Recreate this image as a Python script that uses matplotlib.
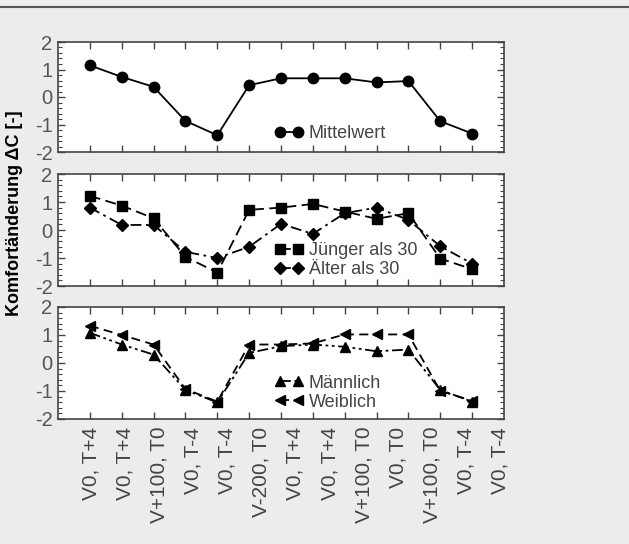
import matplotlib
matplotlib.use('Agg')
import matplotlib.pyplot as plt
from matplotlib.ticker import AutoMinorLocator
from matplotlib.lines import Line2D
import numpy as np

plt.rcParams['font.family'] = ['Liberation Sans', 'DejaVu Sans']
plt.rcParams['axes.unicode_minus'] = False

# Messpunkte (Szenarien)
x_labels = ['V0, T+4', 'V0, T+4', 'V+100, T0', 'V0, T-4', 'V0, T-4', 'V-200, T0',
            'V0, T+4', 'V0, T+4', 'V+100, T0', 'V0, T0', 'V+100, T0', 'V0, T-4', 'V0, T-4']
x = np.arange(1, 14)

mittelwert = [1.15, 0.73, 0.37, -0.87, -1.39, 0.43, 0.68, 0.68, 0.68, 0.53, 0.58, -0.88, -1.33]
juenger = [1.22, 0.87, 0.42, -0.96, -1.52, 0.72, 0.80, 0.93, 0.66, 0.40, 0.60, -1.02, -1.40]
aelter = [0.80, 0.18, 0.18, -0.78, -1.00, -0.60, 0.22, -0.14, 0.60, 0.80, 0.36, -0.58, -1.20]
maennlich = [1.08, 0.66, 0.30, -0.96, -1.41, 0.36, 0.60, 0.66, 0.58, 0.42, 0.48, -0.96, -1.38]
weiblich = [1.33, 1.00, 0.66, -0.93, -1.38, 0.66, 0.66, 0.70, 1.02, 1.02, 1.02, -1.00, -1.35]

bg = '#ececec'
fig = plt.figure(figsize=(6.29, 5.44), dpi=100, facecolor=bg)

left, width = 58 / 629, (504 - 58) / 629
axes_px = [(42, 152), (174, 286), (307, 419)]
axes = []
for top, bot in axes_px:
    ax = fig.add_axes([left, 1 - bot / 544, width, (bot - top) / 544])
    axes.append(ax)

for ax in axes:
    ax.set_xlim(0, 14)
    ax.set_ylim(-2, 2)
    ax.set_xticks(x)
    ax.set_xticklabels([])
    ax.set_yticks([-2, -1, 0, 1, 2])
    ax.yaxis.set_minor_locator(AutoMinorLocator(5))
    ax.tick_params(axis='both', which='major', direction='in', top=True, right=True,
                   length=5, width=1, color='#444444', labelcolor='#555555', labelsize=14.5, pad=4)
    ax.tick_params(axis='y', which='minor', direction='in', left=True, right=True,
                   length=3, width=0.8, color='#444444')
    ax.tick_params(axis='x', which='minor', bottom=False, top=False)
    for s in ax.spines.values():
        s.set_color('#444444')
        s.set_linewidth(1.2)

lw = 1.3
ax1, ax2, ax3 = axes
ax1.plot(x, mittelwert, color='black', lw=lw, marker='o', ms=7.5, label='Mittelwert')
ax2.plot(x, juenger, color='black', lw=lw, ls=(0, (6, 3)), marker='s', ms=6.5, label='Jünger als 30')
ax2.plot(x, aelter, color='black', lw=lw, ls=(0, (6, 2.5, 1.5, 2.5)), marker='D', ms=6, label='Älter als 30')
ax3.plot(x, maennlich, color='black', lw=lw, ls=(0, (6, 2, 1.5, 2, 1.5, 2)), marker='^', ms=7, label='Männlich')
ax3.plot(x, weiblich, color='black', lw=lw, ls=(0, (5, 3)), marker='<', ms=7, label='Weiblich')

leg_kw = dict(frameon=False, numpoints=2, handlelength=1.6, handletextpad=0.3,
              fontsize=13, labelspacing=0.1, borderpad=0, borderaxespad=0,
              labelcolor='#444444')
ax1.legend(loc='center left', bbox_to_anchor=(0.485, 0.165), **leg_kw)
ax2.legend(loc='center left', bbox_to_anchor=(0.485, 0.23), **leg_kw)
ax3.legend(loc='center left', bbox_to_anchor=(0.485, 0.235), **leg_kw)

# Beschriftungen der x-Achse (leicht versetzt wie im Original)
label_x = 1.04 + 1.069 * np.arange(len(x_labels))
for xp, lab in zip(label_x, x_labels):
    ax3.text(xp, -0.07, lab, transform=ax3.get_xaxis_transform(), rotation=90,
             ha='center', va='top', fontsize=15, color='#444444', clip_on=False)

fig.text(15 / 629, 1 - 213 / 544, 'Komfortänderung ΔC [-]', rotation=90, ha='center', va='center',
         fontsize=13, fontweight='bold', color='black')

fig.add_artist(Line2D([0, 1], [1 - 6.5 / 544, 1 - 6.5 / 544], color='#555555', lw=1.5,
                      transform=fig.transFigure))

fig.savefig('out.png', dpi=100, facecolor=bg)
